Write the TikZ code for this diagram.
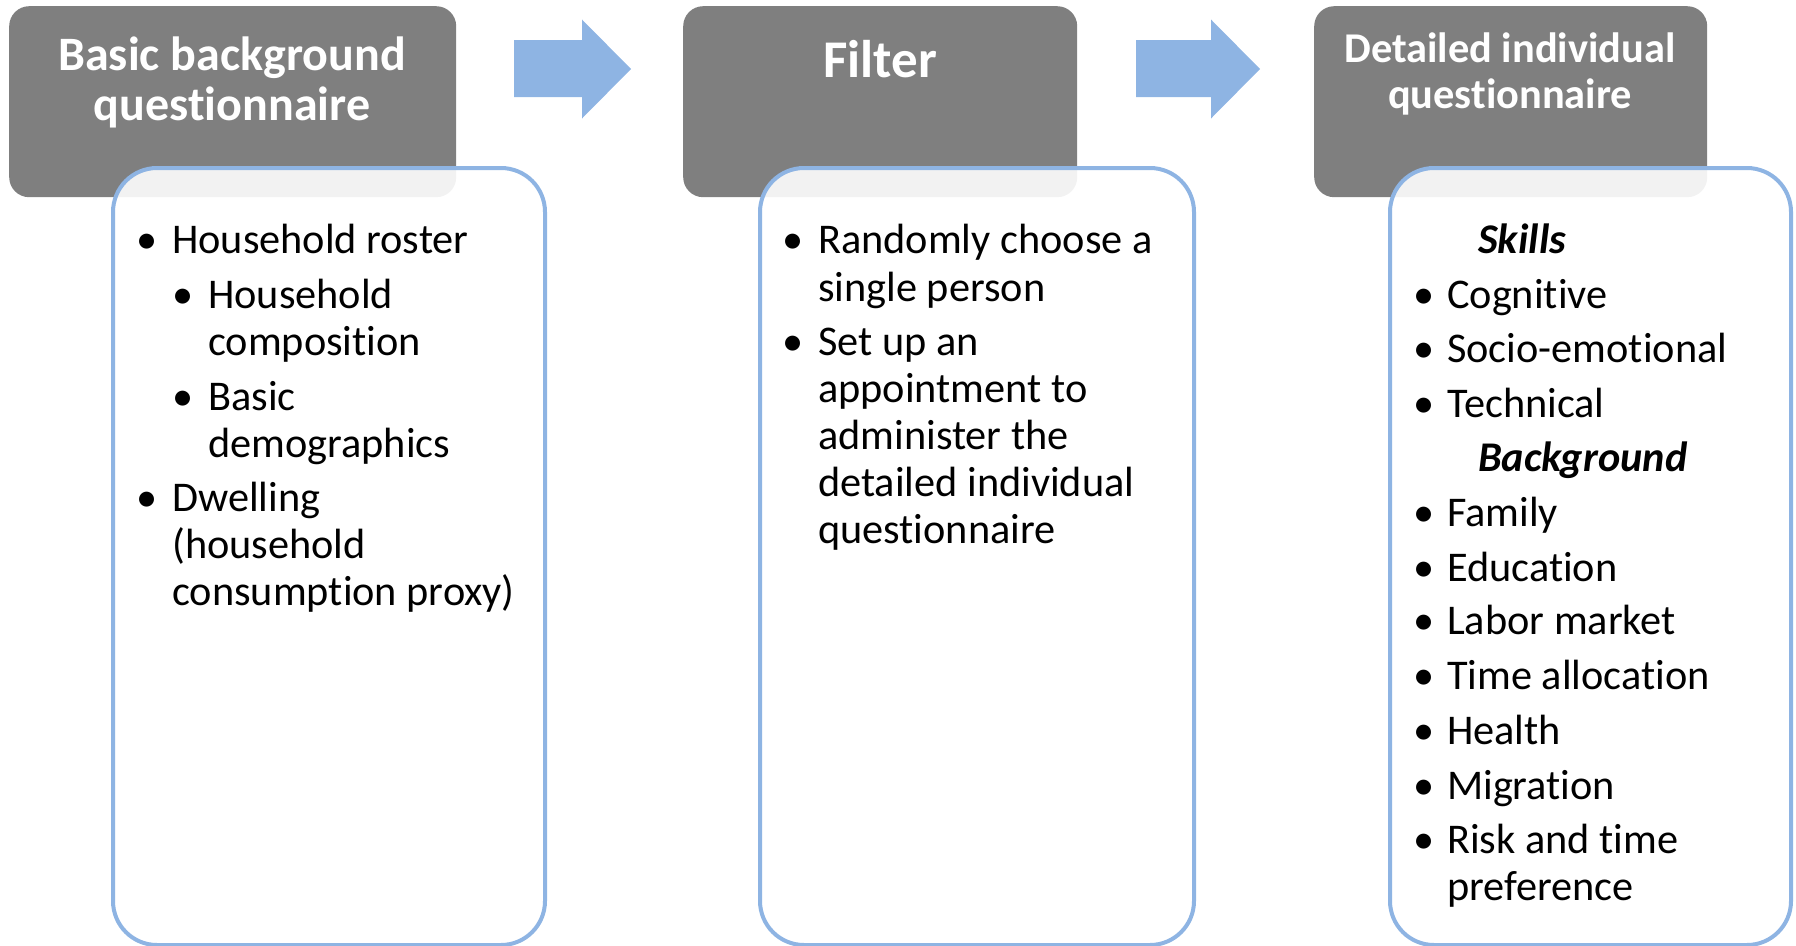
\documentclass[tikz,border=0pt]{standalone}
\usepackage{fontspec}
\setmainfont{Carlito}[Ligatures={NoCommon,NoRequired,NoContextual},Contextuals=NoAlternate]
% keep "t" and "i" as separate glyphs
\newcommand\tiX{t\kern0pt i}
\definecolor{hdrgray}{HTML}{7F7F7F}
\definecolor{flowblue}{HTML}{8EB4E3}
\begin{document}
\begin{tikzpicture}[x=1pt,y=-1pt,
  hdrbox/.style={fill=hdrgray, draw=none, rounded corners=20pt, anchor=north west, inner sep=0pt},
  listbox/.style={fill=white, fill opacity=0.9, draw=flowblue, line width=4pt, rounded corners=44pt, anchor=north west, inner sep=0pt},
  titletext/.style={text=white, inner sep=0pt, anchor=base},
  itemtext/.style={inner sep=0pt, anchor=base west, font=\fontsize{42.3}{47}\selectfont},
  bulletdot/.style={inner sep=0pt, anchor=base, font=\fontsize{42.3}{47}\selectfont},
  blockarrow/.style={fill=flowblue}]

\useasboundingbox (0,0) rectangle (1796,945);

% header tiles
\node[hdrbox, minimum width=447pt, minimum height=191pt] (h1) at (9,6) {};
\node[hdrbox, minimum width=394pt, minimum height=191pt] (h2) at (683,6) {};
\node[hdrbox, minimum width=393pt, minimum height=191pt] (h3) at (1314,6) {};

% header titles
\node[titletext, font=\fontsize{48}{50}\bfseries] (t1a) at (232,70) {Basic background};
\node[titletext, font=\fontsize{48}{50}\bfseries] (t1b) at (232,120) {ques\tiX onnaire};
\node[titletext, font=\fontsize{53}{56}\bfseries] (t2a) at (880,77) {Filter};
\node[titletext, font=\fontsize{42.4}{46}\bfseries] (t3a) at (1510,62) {Detailed individual};
\node[titletext, font=\fontsize{42.4}{46}\bfseries] (t3b) at (1510,108) {ques\tiX onnaire};

% content panels, laid over the lower part of each header
\node[listbox, minimum width=432pt, minimum height=777pt] (b1) at (111,166) {};
\node[listbox, minimum width=434pt, minimum height=777pt] (b2) at (758,166) {};
\node[listbox, minimum width=401pt, minimum height=777pt] (b3) at (1388,166) {};

% block arrows between the stages
\fill[blockarrow] (514,40) -- (582,40) -- (582,19.5) -- (631,69) -- (582,118.5) -- (582,97) -- (514,97) -- cycle;
\fill[blockarrow] (1136,40) -- (1211,40) -- (1211,19.5) -- (1260,69) -- (1211,118.5) -- (1211,97) -- (1136,97) -- cycle;

% panel 1
\node[bulletdot] (d1a) at (147,253) {•};
\node[itemtext] (p1a) at (172,253) {Household roster};
\node[bulletdot] (d1b) at (183,308) {•};
\node[itemtext] (p1b) at (208,308) {Household};
\node[itemtext] (p1c) at (208,355) {composi\tiX on};
\node[bulletdot] (d1d) at (183,410) {•};
\node[itemtext] (p1d) at (208,410) {Basic};
\node[itemtext] (p1e) at (208,457) {demographics};
\node[bulletdot] (d1f) at (147,511) {•};
\node[itemtext] (p1f) at (172,511) {Dwelling};
\node[itemtext] (p1g) at (172,558) {(household};
\node[itemtext] (p1h) at (172,605) {consump\tiX on proxy)};

% panel 2
\node[bulletdot] (d2a) at (793,253) {•};
\node[itemtext] (p2a) at (818,253) {Randomly choose a};
\node[itemtext] (p2b) at (818,301) {single person};
\node[bulletdot] (d2c) at (793,355) {•};
\node[itemtext] (p2c) at (818,355) {Set up an};
\node[itemtext] (p2d) at (818,402) {appointment to};
\node[itemtext] (p2e) at (818,449) {administer the};
\node[itemtext] (p2f) at (818,496) {detailed individual};
\node[itemtext] (p2g) at (818,543) {ques\tiX onnaire};

% panel 3
\node[itemtext, font=\fontsize{42.3}{47}\bfseries\itshape] (s3a) at (1478,253) {Skills};
\node[itemtext, font=\fontsize{42.3}{47}\bfseries\itshape] (s3b) at (1478,471) {Background};
\foreach \y/\txt [count=\n] in {308/Cogni\tiX ve, 362/Socio-emo\tiX onal, 417/Technical,
    526/Family, 581/Educa\tiX on, 634/Labor market, 689/Time alloca\tiX on,
    744/Health, 799/Migra\tiX on, 853/Risk and time}{
  \node[bulletdot] (d3-\n) at (1424,\y) {•};
  \node[itemtext] (p3-\n) at (1447,\y) {\txt};
}
\node[itemtext] (p3-11) at (1447,900) {preference};
\end{tikzpicture}
\end{document}
